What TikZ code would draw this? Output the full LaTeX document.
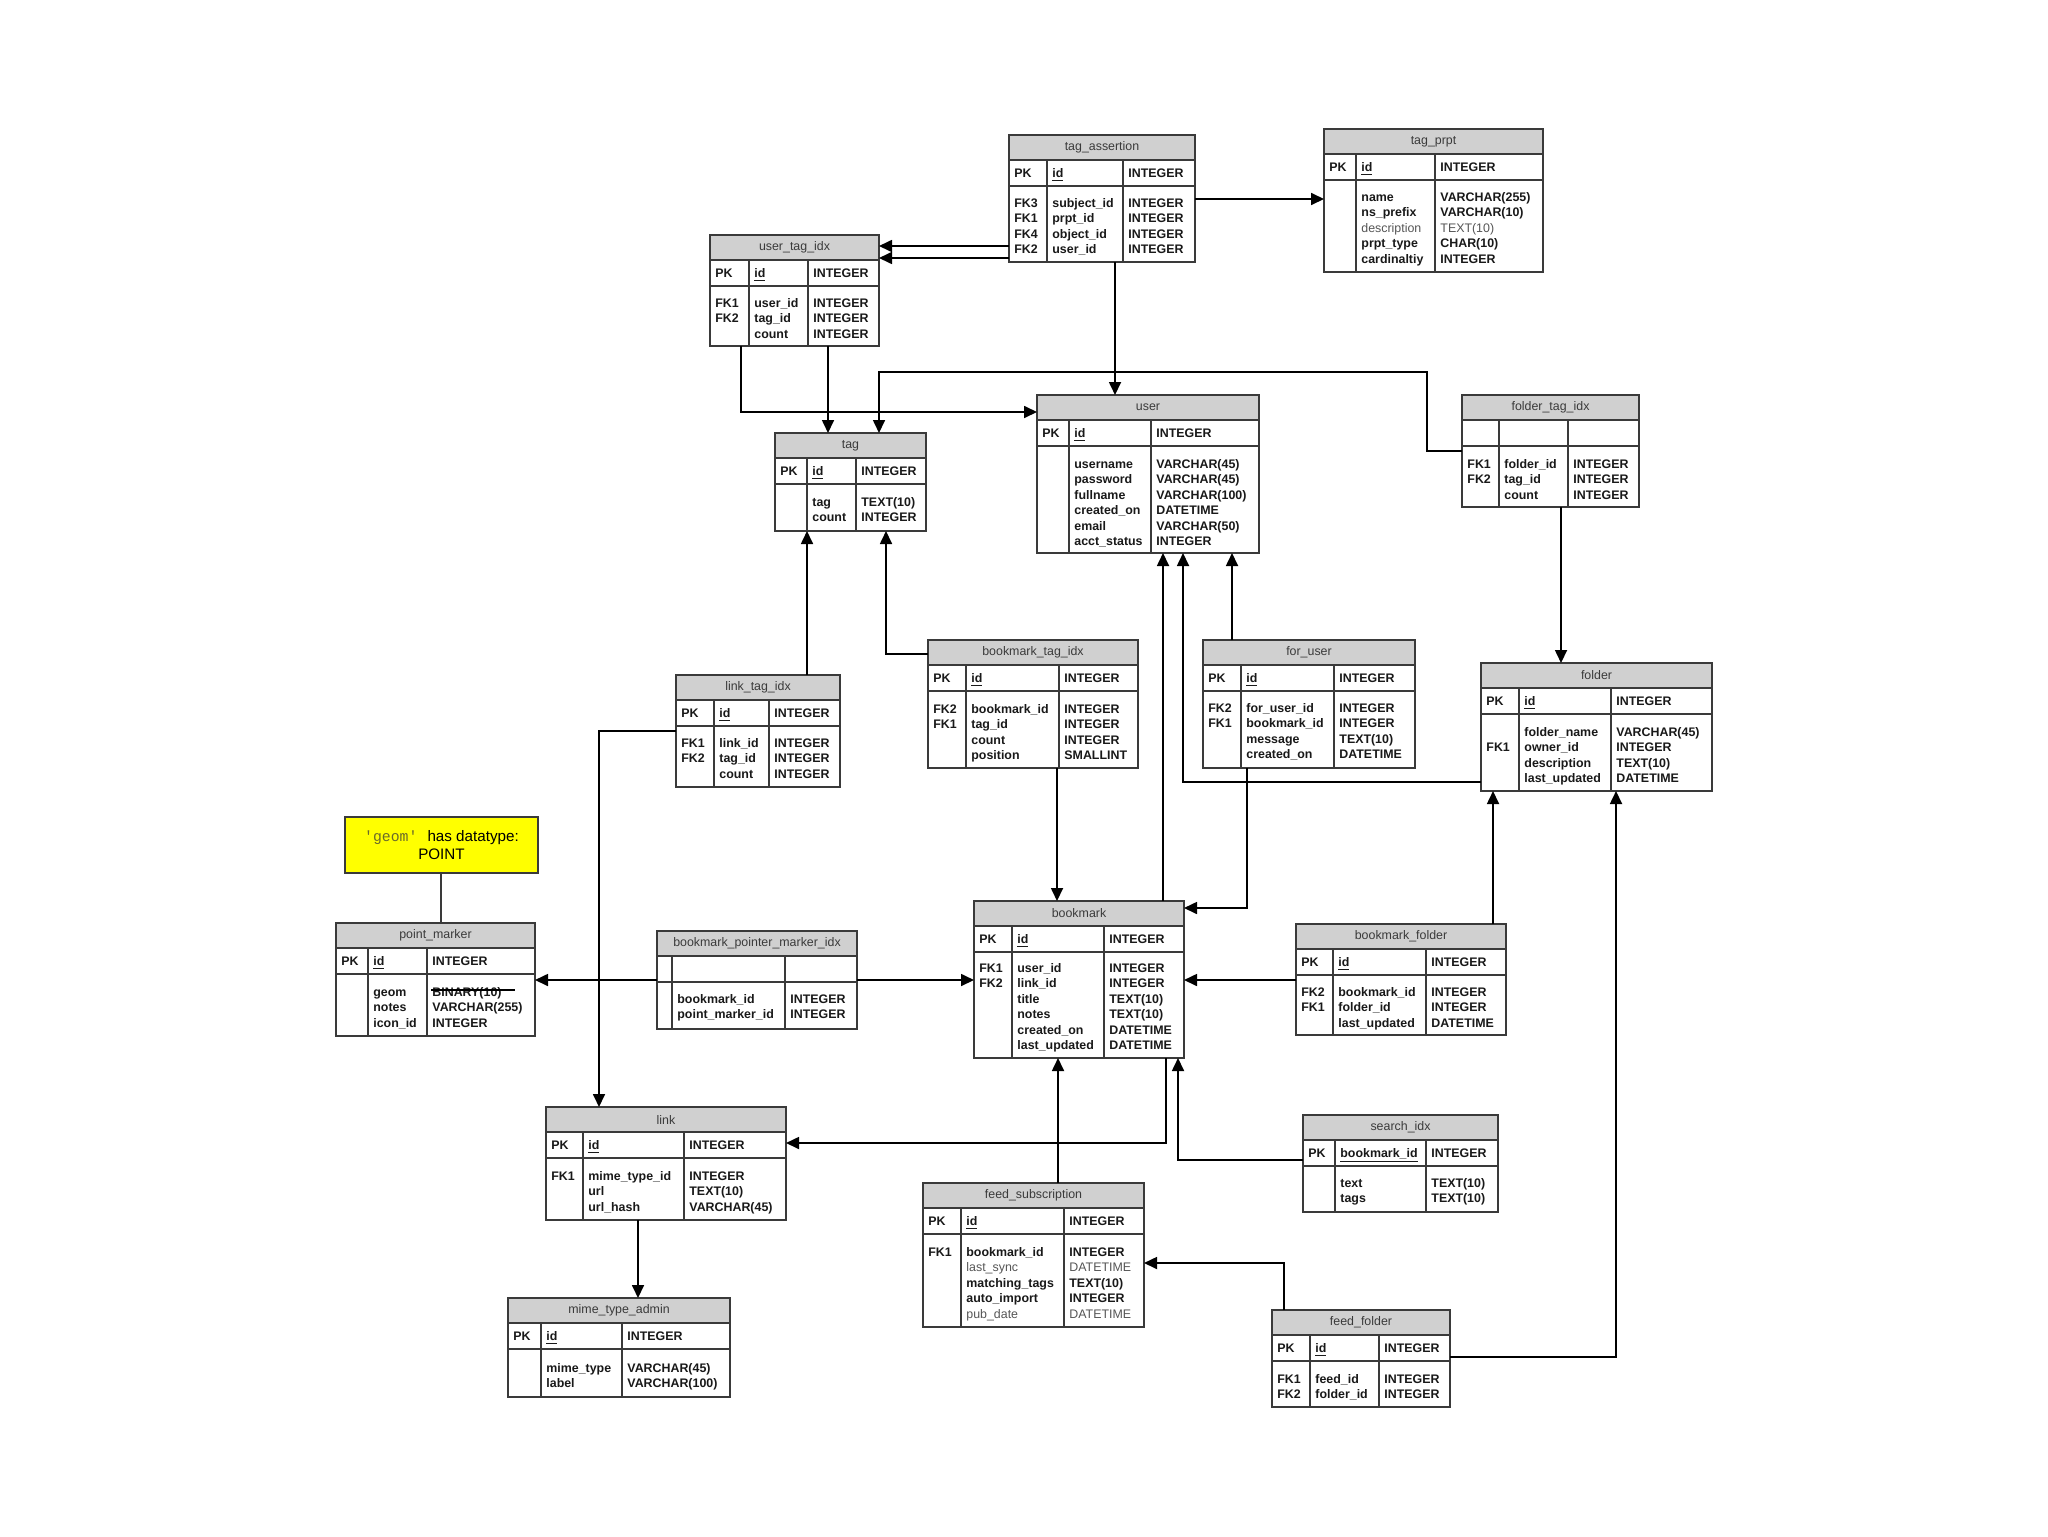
\documentclass[tikz,border=0pt]{standalone}
\usepackage{fontspec}
\setmainfont{Liberation Sans}
\newfontfamily\monof{Liberation Mono}
\usetikzlibrary{arrows.meta,fit}
\definecolor{hdr}{HTML}{D0D0D0}
\definecolor{bord}{HTML}{3A3A3A}
\definecolor{htxt}{HTML}{3A3A3A}
\definecolor{litec}{HTML}{555555}
\definecolor{olivec}{HTML}{6A6A2A}
\definecolor{notey}{HTML}{FFFF00}
\newcommand\lite{\mdseries\color{litec}}
\newcommand\tbl[8]{%
  \fill[hdrfill] (#2,#3) rectangle (#4,#3+25);
  \node[tbl, fit={(#2,#3) (#4,#5)}] (#1) {};
  \draw[tline] (#2,#3+25) -- (#4,#3+25) (#2,#3+51) -- (#4,#3+51)
               (#6,#3+25) -- (#6,#5) (#7,#3+25) -- (#7,#5);
  \node[hdrtxt] (#1-title) at ({(#2+#4)/2},#3+12.5) {#8};
  \gdef\tN{#1}\gdef\tX{#2}\gdef\tY{#3}\gdef\tA{#6}\gdef\tB{#7}%
}
\newcommand\pkrow[3]{%
  \node[cell] (\tN-pk1) at (\tX+5,\tY+42) {#1};
  \node[cell] (\tN-pk2) at (\tA+5,\tY+42) {#2};
  \node[cell] (\tN-pk3) at (\tB+5,\tY+42) {#3};
}
\newcommand\rows[2]{%
  \foreach \rk/\rn/\rt [count=\ri from 0] in {#2} {
    \node[cell] (\tN-k\ri) at (\tX+5,#1+\ri*15.5+4) {\rk};
    \node[cell] (\tN-n\ri) at (\tA+5,#1+\ri*15.5+4) {\rn};
    \node[cell] (\tN-t\ri) at (\tB+5,#1+\ri*15.5+4) {\rt};
  }%
}
\begin{document}
\begin{tikzpicture}[x=0.5pt,y=-0.5pt,
  tbl/.style={draw=bord, line width=0.85pt, inner sep=0pt, outer sep=0pt},
  tline/.style={draw=bord, line width=0.85pt},
  hdrfill/.style={fill=hdr},
  hdrtxt/.style={font=\fontsize{6.2pt}{7pt}\selectfont, text=htxt, inner sep=0pt},
  cell/.style={anchor=base west, inner sep=0pt, font=\fontsize{6.2pt}{7pt}\selectfont\bfseries, text=black!90},
  conn/.style={line width=0.85pt, black, -{Triangle[length=6.5pt,width=6pt]}},
  plain/.style={line width=0.85pt, bord},
  strike/.style={line width=0.6pt, black},
  notebox/.style={draw=bord, line width=0.85pt, fill=notey, align=center, inner sep=0pt,
    font=\fontsize{7.6pt}{9pt}\selectfont, minimum width=96.5pt, minimum height=28pt}]
\useasboundingbox[fill=white] (0,0) rectangle (2048,1536);

% ---------- tables ----------
\tbl{tagassert}{1009}{135}{1195}{262}{1047}{1123}{tag\_assertion}
\pkrow{PK}{\underline{id}}{INTEGER}
\rows{203}{FK3/subject\_id/INTEGER, FK1/prpt\_id/INTEGER, FK4/object\_id/INTEGER, FK2/user\_id/INTEGER}

\tbl{tagprpt}{1324}{129}{1543}{272}{1356}{1435}{tag\_prpt}
\pkrow{PK}{\underline{id}}{INTEGER}
\rows{197}{{}/name/VARCHAR(255), {}/ns\_prefix/VARCHAR(10), {}/\lite description/\lite TEXT(10), {}/prpt\_type/CHAR(10), {}/cardinaltiy/INTEGER}

\tbl{usertagidx}{710}{235}{879}{346}{749}{808}{user\_tag\_idx}
\pkrow{PK}{\underline{id}}{INTEGER}
\rows{303}{FK1/user\_id/INTEGER, FK2/tag\_id/INTEGER, {}/count/INTEGER}

\tbl{tag}{775}{433}{926}{531}{807}{856}{tag}
\pkrow{PK}{\underline{id}}{INTEGER}
\rows{502}{{}/tag/TEXT(10), {}/count/INTEGER}

\tbl{user}{1037}{395}{1259}{553}{1069}{1151}{user}
\pkrow{PK}{\underline{id}}{INTEGER}
\rows{464}{{}/username/VARCHAR(45), {}/password/VARCHAR(45), {}/fullname/VARCHAR(100), {}/created\_on/DATETIME, {}/email/VARCHAR(50), {}/acct\_status/INTEGER}

\tbl{foldertagidx}{1462}{395}{1639}{507}{1499}{1568}{folder\_tag\_idx}
\rows{464}{FK1/folder\_id/INTEGER, FK2/tag\_id/INTEGER, {}/count/INTEGER}

\tbl{linktagidx}{676}{675}{840}{787}{714}{769}{link\_tag\_idx}
\pkrow{PK}{\underline{id}}{INTEGER}
\rows{743}{FK1/link\_id/INTEGER, FK2/tag\_id/INTEGER, {}/count/INTEGER}

\tbl{bmtagidx}{928}{640}{1138}{768}{966}{1059}{bookmark\_tag\_idx}
\pkrow{PK}{\underline{id}}{INTEGER}
\rows{709}{FK2/bookmark\_id/INTEGER, FK1/tag\_id/INTEGER, {}/count/INTEGER, {}/position/SMALLINT}

\tbl{foruser}{1203}{640}{1415}{768}{1241}{1334}{for\_user}
\pkrow{PK}{\underline{id}}{INTEGER}
\rows{708}{FK2/for\_user\_id/INTEGER, FK1/bookmark\_id/INTEGER, {}/message/TEXT(10), {}/created\_on/DATETIME}

\tbl{folder}{1481}{663}{1712}{791}{1519}{1611}{folder}
\pkrow{PK}{\underline{id}}{INTEGER}
\rows{732}{{}/folder\_name/VARCHAR(45), FK1/owner\_id/INTEGER, {}/description/TEXT(10), {}/last\_updated/DATETIME}

\tbl{pointmarker}{336}{923}{535}{1036}{368}{427}{point\_marker}
\pkrow{PK}{\underline{id}}{INTEGER}
\rows{992}{{}/geom/BINARY(10), {}/notes/VARCHAR(255), {}/icon\_id/INTEGER}
\draw[strike] (431,990) -- (515,990);

\tbl{bpmi}{657}{931}{857}{1029}{672}{785}{bookmark\_pointer\_marker\_idx}
\rows{999}{{}/bookmark\_id/INTEGER, {}/point\_marker\_id/INTEGER}

\tbl{bookmark}{974}{901}{1184}{1058}{1012}{1104}{bookmark}
\pkrow{PK}{\underline{id}}{INTEGER}
\rows{968}{FK1/user\_id/INTEGER, FK2/link\_id/INTEGER, {}/title/TEXT(10), {}/notes/TEXT(10), {}/created\_on/DATETIME, {}/last\_updated/DATETIME}

\tbl{bmfolder}{1296}{924}{1506}{1035}{1333}{1426}{bookmark\_folder}
\pkrow{PK}{\underline{id}}{INTEGER}
\rows{992}{FK2/bookmark\_id/INTEGER, FK1/folder\_id/INTEGER, {}/last\_updated/DATETIME}

\tbl{link}{546}{1107}{786}{1220}{583}{684}{link}
\pkrow{PK}{\underline{id}}{INTEGER}
\rows{1176}{FK1/mime\_type\_id/INTEGER, {}/url/TEXT(10), {}/url\_hash/VARCHAR(45)}

\tbl{searchidx}{1303}{1115}{1498}{1212}{1335}{1426}{search\_idx}
\pkrow{PK}{\underline{bookmark\_id}}{INTEGER}
\rows{1183}{{}/text/TEXT(10), {}/tags/TEXT(10)}

\tbl{feedsub}{923}{1183}{1144}{1327}{961}{1064}{feed\_subscription}
\pkrow{PK}{\underline{id}}{INTEGER}
\rows{1252}{FK1/bookmark\_id/INTEGER, {}/\lite last\_sync/\lite DATETIME, {}/matching\_tags/TEXT(10), {}/auto\_import/INTEGER, {}/\lite pub\_date/\lite DATETIME}

\tbl{mime}{508}{1298}{730}{1397}{541}{622}{mime\_type\_admin}
\pkrow{PK}{\underline{id}}{INTEGER}
\rows{1368}{{}/mime\_type/VARCHAR(45), {}/label/VARCHAR(100)}

\tbl{feedfolder}{1272}{1310}{1450}{1407}{1310}{1379}{feed\_folder}
\pkrow{PK}{\underline{id}}{INTEGER}
\rows{1379}{FK1/feed\_id/INTEGER, FK2/folder\_id/INTEGER}

% ---------- note ----------
\node[notebox] (note) at (441.5,845) {{\monof\fontsize{7.4pt}{9pt}\selectfont\color{olivec}'geom'}\hspace{5pt}has datatype:\\POINT};

% ---------- connectors ----------
\draw[conn] (tagassert.east |- 0,199) -- (tagprpt.west |- 0,199);
\draw[conn] (tagassert.west |- 0,246) -- (usertagidx.east |- 0,246);
\draw[conn] (tagassert.west |- 0,258) -- (usertagidx.east |- 0,258);
\draw[conn] (tagassert.south -| 1115,0) -- (user.north -| 1115,0);
\draw[conn] (usertagidx.south -| 741,0) |- (user.west |- 0,412);
\draw[conn] (usertagidx.south -| 828,0) -- (tag.north -| 828,0);
\draw[conn] (foldertagidx.west |- 0,451) -| (1427,372) -| (tag.north -| 879,0);
\draw[conn] (foldertagidx.south -| 1561,0) -- (folder.north -| 1561,0);
\draw[conn] (linktagidx.north -| 807,0) -- (tag.south -| 807,0);
\draw[conn] (bmtagidx.west |- 0,654) -| (tag.south -| 886,0);
\draw[conn] (bmtagidx.south -| 1057,0) -- (bookmark.north -| 1057,0);
\draw[conn] (foruser.north -| 1232,0) -- (user.south -| 1232,0);
\draw[conn] (foruser.south -| 1247,0) |- (bookmark.east |- 0,908);
\draw[conn] (folder.west |- 0,782) -| (user.south -| 1183,0);
\draw[conn] (bookmark.north -| 1163,0) -- (user.south -| 1163,0);
\draw[conn] (linktagidx.west |- 0,731) -| (link.north -| 599,0);
\draw[plain] (note.south -| 441,0) -- (pointmarker.north -| 441,0);
\draw[conn] (bpmi.west |- 0,980) -- (pointmarker.east |- 0,980);
\draw[conn] (bpmi.east |- 0,980) -- (bookmark.west |- 0,980);
\draw[conn] (bmfolder.west |- 0,980) -- (bookmark.east |- 0,980);
\draw[conn] (bmfolder.north -| 1493,0) -- (folder.south -| 1493,0);
\draw[conn] (bookmark.south -| 1166,0) |- (link.east |- 0,1143);
\draw[conn] (searchidx.west |- 0,1160) -| (bookmark.south -| 1178,0);
\draw[conn] (feedsub.north -| 1058,0) -- (bookmark.south -| 1058,0);
\draw[conn] (feedfolder.north -| 1284,0) |- (feedsub.east |- 0,1263);
\draw[conn] (feedfolder.east |- 0,1357) -| (folder.south -| 1616,0);
\draw[conn] (link.south -| 638,0) -- (mime.north -| 638,0);
\end{tikzpicture}
\end{document}
